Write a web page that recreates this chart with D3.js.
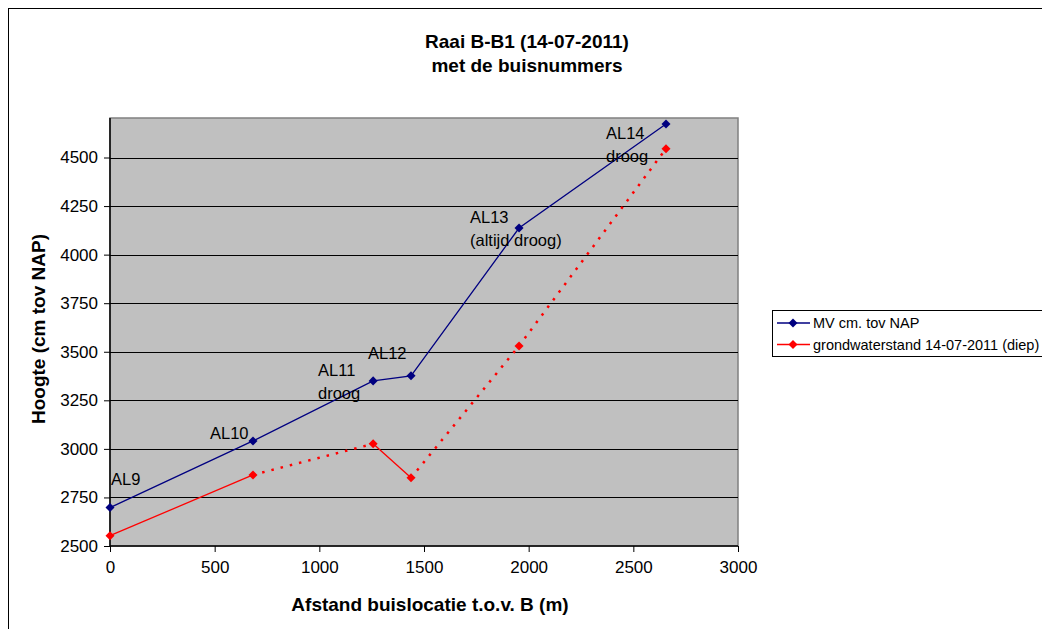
<!DOCTYPE html>
<html><head><meta charset="utf-8">
<script src="https://cdn.jsdelivr.net/npm/d3@7"></script>
<style>body{margin:0;background:#fff}svg{display:block;font-family:"Liberation Sans",Arial,sans-serif}</style>
</head><body>
<svg id="c" width="1042" height="629"></svg>
<script>
const distances = [0, 683, 1257, 1438, 1954, 2656];
const mvValues = [2698, 3041, 3350, 3376, 4137, 4672];
const gwValues = [2553, 2866, 3026, 2851, 3530, 4545];
// segment styles for groundwater line (between successive points)
const gwSegmentDotted = [false, true, false, true, true];
const labels = [["AL9"], ["AL10"], ["AL11", "droog"], ["AL12"], ["AL13", "(altijd droog)"], ["AL14", "droog"]];
const xTicks = [0, 500, 1000, 1500, 2000, 2500, 3000];
const yTicks = [2500, 2750, 3000, 3250, 3500, 3750, 4000, 4250, 4500];
const seriesNames = ["MV cm. tov NAP", "grondwaterstand 14-07-2011 (diep)"];
const seriesColors = ["#000080", "#FF0000"];

const svg = d3.select("#c");
const L = 110, R = 738, T = 118, B = 546;
const x = d3.scaleLinear().domain([0, 3000]).range([L, R]);
const y = d3.scaleLinear().domain([2500, 4500]).range([B, 157.5]);

// outer border
svg.append("rect").attr("x", 8.5).attr("y", 8.5).attr("width", 1100).attr("height", 700)
  .attr("fill", "#fff").attr("stroke", "#000").attr("stroke-width", 1);

// plot area
svg.append("rect").attr("x", L).attr("y", T).attr("width", R - L).attr("height", B - T)
  .attr("fill", "#C0C0C0").attr("stroke", "#808080").attr("stroke-width", 1.5);

// gridlines
svg.append("g").selectAll("line").data(yTicks.slice(1)).join("line")
  .attr("x1", L).attr("x2", R).attr("y1", d => Math.round(y(d)) + 0.5).attr("y2", d => Math.round(y(d)) + 0.5)
  .attr("stroke", "#000").attr("stroke-width", 1);

// axes
const yAxis = d3.axisLeft(y).tickValues(yTicks).tickSize(6).tickPadding(6).tickFormat(d3.format("d"));
const gy = svg.append("g").attr("transform", `translate(${L},0)`).call(yAxis);
const xAxis = d3.axisBottom(x).tickValues(xTicks).tickSize(6).tickPadding(9).tickFormat(d3.format("d"));
const gx = svg.append("g").attr("transform", `translate(0,${B})`).call(xAxis);
[gx, gy].forEach(g => {
  g.select(".domain").attr("stroke", "#000").attr("stroke-width", 1.5);
  g.selectAll(".tick line").attr("stroke", "#000");
  g.selectAll(".tick text").attr("font-size", 17).attr("fill", "#000")
    .attr("font-family", "Liberation Sans, Arial, sans-serif");
});
gx.select(".domain").attr("d", `M${L},0H${R}`);
gy.select(".domain").attr("d", `M0,${B}V${T}`);

// axis titles
svg.append("text").attr("x", (L + R) / 2 + 6).attr("y", 611).attr("text-anchor", "middle")
  .attr("font-size", 19).attr("font-weight", "bold").text("Afstand buislocatie t.o.v. B (m)");
svg.append("text").attr("transform", `translate(45,${(T + B) / 2 - 3}) rotate(-90)`).attr("text-anchor", "middle")
  .attr("font-size", 19).attr("font-weight", "bold").text("Hoogte (cm tov NAP)");

// title
svg.append("text").attr("x", 527).attr("y", 48).attr("text-anchor", "middle")
  .attr("font-size", 19).attr("font-weight", "bold").text("Raai B-B1 (14-07-2011)");
svg.append("text").attr("x", 527).attr("y", 72).attr("text-anchor", "middle")
  .attr("font-size", 19).attr("font-weight", "bold").text("met de buisnummers");

// lines
const mvPts = distances.map((d, i) => [d, mvValues[i]]);
const gwPts = distances.map((d, i) => [d, gwValues[i]]);
const line = d3.line().x(d => x(d[0])).y(d => y(d[1]));
svg.append("path").attr("d", line(mvPts)).attr("fill", "none").attr("stroke", seriesColors[0]).attr("stroke-width", 1.3);
for (let i = 0; i < gwPts.length - 1; i++) {
  const p = svg.append("path").attr("d", line([gwPts[i], gwPts[i + 1]])).attr("fill", "none")
    .attr("stroke", seriesColors[1]);
  if (gwSegmentDotted[i]) p.attr("stroke-width", 2.5).attr("stroke-dasharray", "2.5,7");
  else p.attr("stroke-width", 1.3);
}

// markers
const diamond = d3.symbol().type(d3.symbolDiamond2).size(52);
[[mvPts, seriesColors[0]], [gwPts, seriesColors[1]]].forEach(([pts, c]) => {
  svg.append("g").selectAll("path").data(pts).join("path")
    .attr("transform", d => `translate(${x(d[0])},${y(d[1])})`).attr("d", diamond).attr("fill", c);
});

// annotations
const labelPos = [[111, 485], [210, 439], [318, 376], [368, 359], [470, 223], [606, 139]];
labels.forEach((ls, i) => {
  const t = svg.append("text").attr("x", labelPos[i][0]).attr("y", labelPos[i][1]).attr("font-size", 16.5).attr("fill", "#000");
  ls.forEach((s, j) => t.append("tspan").attr("x", labelPos[i][0]).attr("dy", j === 0 ? 0 : 23).text(s));
});

// legend
svg.append("rect").attr("x", 772.5).attr("y", 310.5).attr("width", 400).attr("height", 46)
  .attr("fill", "#fff").attr("stroke", "#000").attr("stroke-width", 1);
seriesNames.forEach((n, i) => {
  const yy = 323 + i * 21.5;
  svg.append("line").attr("x1", 777).attr("x2", 810).attr("y1", yy).attr("y2", yy).attr("stroke", seriesColors[i]).attr("stroke-width", 1.3);
  svg.append("path").attr("transform", `translate(793,${yy})`).attr("d", diamond).attr("fill", seriesColors[i]);
  svg.append("text").attr("x", 813).attr("y", yy + 5).attr("font-size", 14.5).text(n);
});
</script>
</body></html>
